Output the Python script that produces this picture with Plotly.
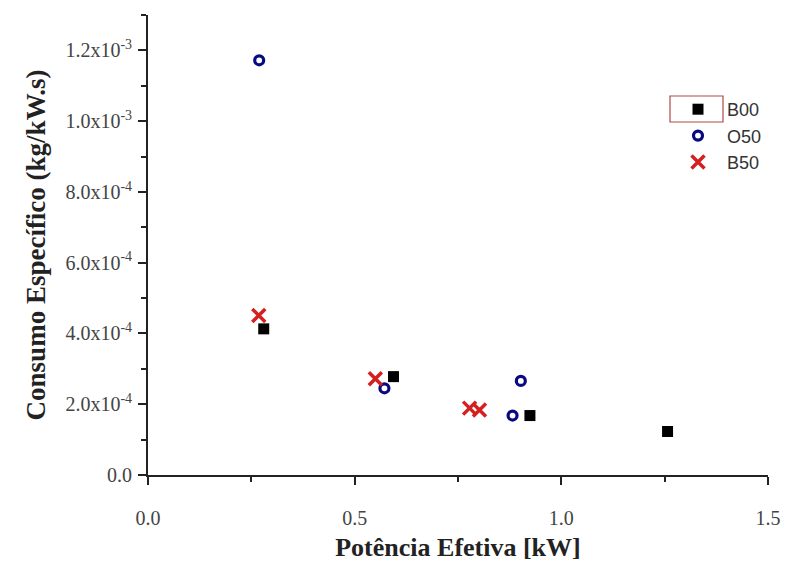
import plotly.graph_objects as go

b00_x = [0.280, 0.594, 0.924, 1.257]
b00_y = [4.13e-4, 2.78e-4, 1.68e-4, 1.23e-4]

o50_x = [0.269, 0.572, 0.882, 0.902]
o50_y = [1.172e-3, 2.45e-4, 1.68e-4, 2.66e-4]

b50_x = [0.268, 0.550, 0.778, 0.802]
b50_y = [4.51e-4, 2.72e-4, 1.89e-4, 1.84e-4]

ytick_vals = [0.0, 2e-4, 4e-4, 6e-4, 8e-4, 1.0e-3, 1.2e-3]
ytick_text = ["0.0", "2.0x10<sup>-4</sup>", "4.0x10<sup>-4</sup>", "6.0x10<sup>-4</sup>",
              "8.0x10<sup>-4</sup>", "1.0x10<sup>-3</sup>", "1.2x10<sup>-3</sup>"]
xtick_vals = [0.0, 0.5, 1.0, 1.5]
xtick_text = ["0.0", "0.5", "1.0", "1.5"]

fig = go.Figure()
fig.add_trace(go.Scatter(x=b00_x, y=b00_y, mode="markers", name="B00",
                         marker=dict(symbol="square", size=11, color="black")))
fig.add_trace(go.Scatter(x=o50_x, y=o50_y, mode="markers", name="O50",
                         marker=dict(symbol="circle-open", size=9, color="#0a0a80",
                                     line=dict(width=3.2, color="#0a0a80"))))
fig.add_trace(go.Scatter(x=b50_x, y=b50_y, mode="markers", name="B50",
                         marker=dict(symbol="x-thin-open", size=13, color="#d42020",
                                     line=dict(width=3.5, color="#d42020"))))

axis_common = dict(showline=True, linecolor="#222", linewidth=1.8, showgrid=False,
                   zeroline=False, ticks="outside", ticklen=8, tickwidth=1.5,
                   tickcolor="#222", mirror=False, automargin=False,
                   tickfont=dict(family="Liberation Serif", size=20, color="#444"))

fig.update_xaxes(range=[0, 1.5], tickvals=xtick_vals, ticktext=xtick_text,
                 ticklabelstandoff=16,
                 title=dict(text="<b>Potência Efetiva [kW]</b>", standoff=10,
                            font=dict(family="Liberation Serif", size=26, color="#222")),
                 minor=dict(ticks="outside", ticklen=5, tickwidth=1.5,
                            tickcolor="#222", dtick=0.25, tick0=0),
                 **axis_common)
fig.update_yaxes(range=[0, 1.3e-3], tickvals=ytick_vals, ticktext=ytick_text,
                 ticklabelstandoff=2,
                 title=dict(text="<b>Consumo Específico (kg/kW.s)</b>", standoff=12,
                            font=dict(family="Liberation Serif", size=27, color="#222")),
                 minor=dict(ticks="outside", ticklen=5, tickwidth=1.5,
                            tickcolor="#222", dtick=1e-4, tick0=0),
                 **axis_common)

fig.add_shape(type="rect", xref="paper", yref="paper",
              x0=(670 - 148) / 620, x1=(723 - 148) / 620,
              y0=(475 - 122) / 460, y1=(475 - 96) / 460,
              line=dict(color="#b04848", width=1.2))

fig.update_layout(
    width=788, height=570,
    margin=dict(l=148, r=20, t=15, b=95),
    paper_bgcolor="white", plot_bgcolor="white",
    showlegend=True,
    legend=dict(x=(669 - 148) / 620, y=(475 - 91) / 460, xanchor="left", yanchor="top",
                bgcolor="rgba(0,0,0,0)",
                font=dict(family="Liberation Sans", size=18, color="#333"),
                itemwidth=48),
)

fig.write_html("out.html")
